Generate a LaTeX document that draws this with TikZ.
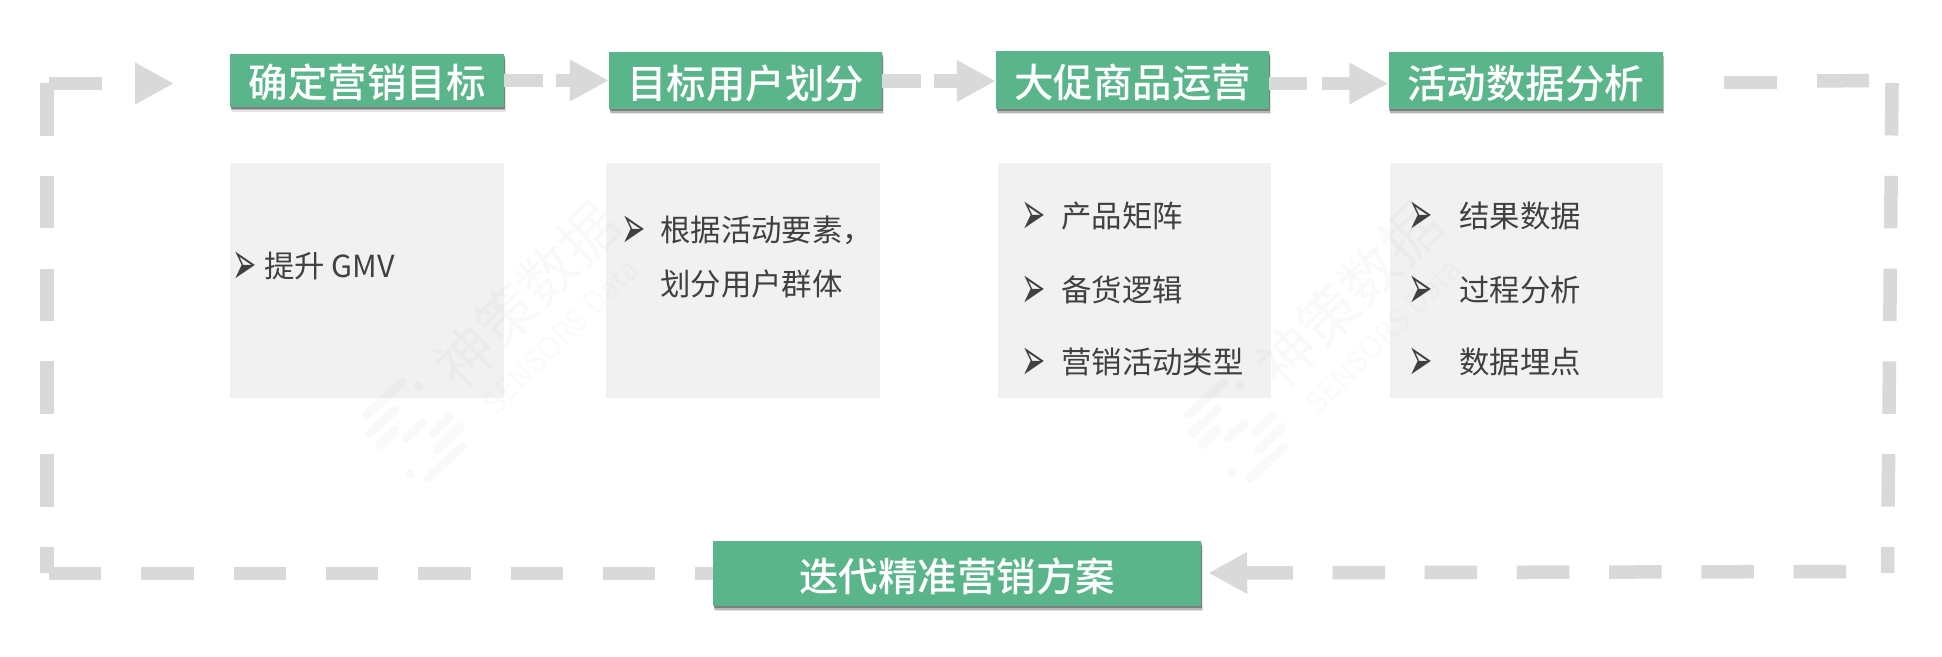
\documentclass[tikz,border=0pt]{standalone}
\usepackage{fontspec}
\setmainfont{Noto Sans CJK SC}
\newfontfamily\titlefont[UprightFont=* Medium]{Noto Sans CJK SC}
\newfontfamily\symfont{DejaVu Sans}
\usetikzlibrary{arrows.meta,shadows,calc}
\definecolor{wmgreen}{HTML}{5BB58B}
\definecolor{boxgray}{HTML}{F1F1F1}
\definecolor{dashgray}{HTML}{D9D9D9}
\definecolor{bodytext}{HTML}{404040}
\newcommand{\ttl}[1]{\raisebox{0pt}[35pt][0pt]{#1}}
\tikzset{
  titlebox/.style={fill=wmgreen,text=white,inner sep=0pt,
    font=\titlefont\fontsize{39.5}{39.5}\selectfont,
    general shadow={shadow xshift=1.5pt,shadow yshift=-5pt,fill=black,opacity=.1},
    general shadow={shadow xshift=1pt,shadow yshift=-3.5pt,fill=black,opacity=.2},
    general shadow={shadow xshift=.5pt,shadow yshift=-2pt,fill=black,opacity=.3}},
  panel/.style={fill=boxgray,inner sep=0pt,minimum width=273pt,minimum height=235pt},
  item/.style={anchor=west,inner sep=0pt,yshift=-1pt,text=bodytext,font=\fontsize{30.4}{30.4}\selectfont},
  bullet/.style={anchor=center,inner sep=0pt,yshift=-3pt,text=bodytext,xscale=1,yscale=2.1,font=\symfont\fontsize{29}{29}\selectfont},
  flow/.style={draw=dashgray,line width=13.5pt,line cap=butt},
  tip/.style={-{Triangle[length=39pt,width=39pt,color=dashgray]}},
  wmtext/.style={inner sep=0pt,text=black,text opacity=.025,rotate=45},
  wmbar/.style={draw=black,draw opacity=.025,line width=9pt,line cap=round},
}
\newcommand{\watermark}[1]{%
  \begin{scope}[shift={(#1,0)}]
    \node[wmtext,font=\fontsize{58}{58}\selectfont] at (527,295) {神策数据};
    \node[wmtext,text opacity=.02,font=\fontsize{30}{30}\selectfont] at (561,336) {SENSORS Data};
    \draw[wmbar] (367,415) -- (402,382);
    \draw[wmbar] (370,433) -- (395,410);
    \draw[wmbar] (380,445) -- (395,430);
    \draw[wmbar] (406,438) -- (423,423);
    \draw[wmbar] (433,433) -- (450,416);
    \draw[wmbar] (437,450) -- (460,427);
    \draw[wmbar] (428,478) -- (462,447);
    \fill[black,fill opacity=.025] (418,386) circle (4.5);
    \fill[black,fill opacity=.025] (410,474) circle (4.5);
  \end{scope}}
\begin{document}
\begin{tikzpicture}[x=1pt,y=-1pt]
\useasboundingbox (0,0) rectangle (1942,656);
\fill[white] (0,0) rectangle (1942,656);

% panels
\node[panel,minimum width=274pt] (p1) at (367,280.5) {};
\node[panel,minimum width=274pt] (p2) at (743,280.5) {};
\node[panel] (p3) at (1134.5,280.5) {};
\node[panel] (p4) at (1526,280.5) {};

\watermark{0}
\watermark{822}

% titles
\node[titlebox,minimum width=274pt,minimum height=53pt] (t1) at (367,80) {\ttl{确定营销目标}};
\node[titlebox,minimum width=273pt,minimum height=57pt] (t2) at (745.5,80.5) {\ttl{目标用户划分}};
\node[titlebox,minimum width=273pt,minimum height=58pt] (t3) at (1132.5,80) {\ttl{大促商品运营}};
\node[titlebox,minimum width=274pt,minimum height=57pt] (t4) at (1525.5,80.5) {\ttl{活动数据分析}};
\node[titlebox,minimum width=488pt,minimum height=65pt] (t5) at (957,573.5) {\ttl{迭代精准营销方案}};

% items
\node[bullet] (b11) at (245,265) {➢};
\node[item] (i11) at (264,265) {提升 GMV};
\node[bullet] (b21) at (634,229) {➢};
\node[item] (i21) at (660,229) {根据活动要素，};
\node[item] (i22) at (660,283) {划分用户群体};
\node[bullet] (b31) at (1034,215) {➢};
\node[item] (i31) at (1061,215) {产品矩阵};
\node[bullet] (b32) at (1034,289) {➢};
\node[item] (i32) at (1061,289) {备货逻辑};
\node[bullet] (b33) at (1034,361) {➢};
\node[item] (i33) at (1061,361) {营销活动类型};
\node[bullet] (b41) at (1421,215) {➢};
\node[item] (i41) at (1459,215) {结果数据};
\node[bullet] (b42) at (1421,289) {➢};
\node[item] (i42) at (1459,289) {过程分析};
\node[bullet] (b43) at (1421,361) {➢};
\node[item] (i43) at (1459,361) {数据埋点};

% connector way-points
\coordinate (a1) at (t1.east |- 0,80.5);
\coordinate (b1) at (t2.west |- 0,80.5);
\coordinate (a2) at (t2.east |- 0,81);
\coordinate (b2) at (t3.west |- 0,81);
\coordinate (a3) at (t3.east |- 0,83.5);
\coordinate (b3) at (t4.west |- 0,83.5);
\coordinate (tl) at (49,83.5);
\coordinate (tipa) at (174,83.5);
\coordinate (ls) at (47,83);
\coordinate (le) at (47,573);
\coordinate (bl) at (49,573.5);
\coordinate (bs) at (t5.west |- 0,573.5);
\coordinate (tr1) at (1724,82.5);
\coordinate (tr2) at (1777,82.5);
\coordinate (tr3) at (1817,81);
\coordinate (tr4) at (1869,80.5);
\coordinate (rs) at (1892,83);
\coordinate (re) at (1887.5,573);
\coordinate (brs) at (1846,571.5);
\coordinate (bre) at (t5.east |- 0,573);

% flow
\draw[flow,tip,dash pattern=on 39pt off 13pt] (a1) -- (b1);
\draw[flow,tip,dash pattern=on 39pt off 13pt] (a2) -- (b2);
\draw[flow,tip,dash pattern=on 38pt off 15pt] (a3) -- (b3);
\draw[flow,tip,dash pattern=on 53pt off 33pt] (tl) -- (tipa);
\draw[flow,dash pattern=on 52.5pt off 40.3pt] (ls) -- (le);
\draw[flow,dash pattern=on 52.3pt off 40pt] (bl) -- (bs);
\draw[flow] (tr1) -- (tr2);
\draw[flow] (tr3) -- (tr4);
\draw[flow,dash pattern=on 52.5pt off 40.3pt] (rs) -- (re);
\draw[flow,tip,dash pattern=on 52.5pt off 39.7pt,shorten >=7pt] (brs) -- (bre);
\end{tikzpicture}
\end{document}
